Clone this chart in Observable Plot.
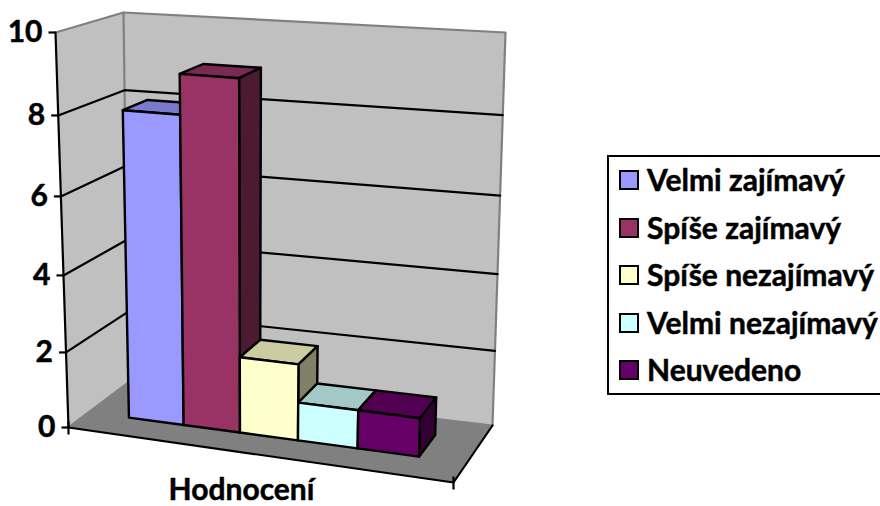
<!DOCTYPE html>
<html>
<head>
<meta charset="utf-8">
<script src="https://cdn.jsdelivr.net/npm/d3@7"></script>
<script src="https://cdn.jsdelivr.net/npm/@observablehq/plot@0.6"></script>
<style>
html,body{margin:0;padding:0;background:#fff;width:880px;height:506px;overflow:hidden}
#wrap{position:relative;width:880px;height:506px}
#legend{position:absolute;left:607px;top:155px;width:290px;height:240px;border:2px solid #000;box-sizing:border-box;font:bold 30px Lato,sans-serif;color:#000;-webkit-text-stroke:0.5px #000}
#legend div.row{position:absolute;left:10px;white-space:nowrap;line-height:24px;height:24px}
#legend i{position:absolute;left:0;top:2px;width:20px;height:20px;border:2px solid #000;box-sizing:border-box}
#legend span{position:absolute;left:28px;top:-1px}
</style>
</head>
<body>
<div id="wrap"></div>
<script>
const categories = ["Velmi zajímavý", "Spíše zajímavý", "Spíše nezajímavý", "Velmi nezajímavý", "Neuvedeno"];
const values = [8, 9, 2, 1, 1];
const frontColors = ["#9999FF", "#993366", "#FFFFCC", "#CCFFFF", "#660066"];
const topColors = ["#7A7ACC", "#7A2952", "#CCCCA3", "#A3C8C8", "#520052"];
const sideColors = ["#4D4D80", "#4D1A33", "#808066", "#668080", "#330033"];
const yTicks = [0, 2, 4, 6, 8, 10];
const xTitle = "Hodnocení";

// 3D box: u left-right, w front-back, v height (fractions), projected by interpolating its corners
const corner = {
  fbl: [68, 427], fbr: [453, 482], bbl: [128, 382], bbr: [492, 425],
  ftl: [55, 32], ftr: [466, 62], btl: [123, 12], btr: [505, 32]
};
const mix = (a, b, t) => [a[0] + (b[0] - a[0]) * t, a[1] + (b[1] - a[1]) * t];
function project(u, w, v) {
  const bottom = mix(mix(corner.fbl, corner.fbr, u), mix(corner.bbl, corner.bbr, u), w);
  const top = mix(mix(corner.ftl, corner.ftr, u), mix(corner.btl, corner.btr, u), w);
  return mix(bottom, top, v);
}
const V = (val) => 0.09375 * val + 0.000625 * val * val;   // perspective along the value axis
const U = (i) => 0.106 + 0.1425 * i + 0.0022 * i * i;      // perspective along the category axis
const W0 = 0.34, W1 = 0.73;

const poly = (id, color, pts) => pts.map(([u, w, v]) => {
  const [x, y] = project(u, w, v);
  return {id, color, x, y};
});

const faces = [];
categories.forEach((c, i) => {
  const a = U(i), b = U(i + 1), h = V(values[i]);
  faces.push(...poly(c + " top", topColors[i], [[a, W0, h], [b, W0, h], [b, W1, h], [a, W1, h]]));
  faces.push(...poly(c + " side", sideColors[i], [[b, W0, 0], [b, W1, 0], [b, W1, h], [b, W0, h]]));
  faces.push(...poly(c + " front", frontColors[i], [[a, W0, 0], [b, W0, 0], [b, W0, h], [a, W0, h]]));
});

const walls = [
  ...poly("left", "#C0C0C0", [[0,0,0],[0,1,0],[0,1,1],[0,0,1]]),
  ...poly("back", "#C0C0C0", [[0,1,0],[1,1,0],[1,1,1],[0,1,1]]),
];
const floor = poly("floor", "#808080", [[0,0,0],[1,0,0],[1,1,0],[0,1,0]]);
const wallEdges = [
  ...poly("e1", "", [[0,0,1],[0,1,1],[1,1,1],[1,1,0],[0,1,0],[0,0,0]]),
  ...poly("e2", "", [[0,1,1],[0,1,0]]),
];
const grid = yTicks.filter(t => t > 0 && t < 10).flatMap(t =>
  poly("g" + t, "", [[0,0,V(t)],[0,1,V(t)],[1,1,V(t)]]));
const axes = [
  ...poly("yaxis", "", [[0,0,0],[0,0,1]]),
  ...poly("xaxis", "", [[0,0,0],[1,0,0],[1,1,0]]),
];
const tickData = yTicks.map(t => { const [x, y] = project(0, 0, V(t)); return {t, x, y}; });
const [bx0, by0] = project(0, 0, 0), [bx1, by1] = project(1, 0, 0);
const labelStyle = {fontFamily: "Lato, sans-serif", fontWeight: "bold", fontSize: 30, fill: "#000", stroke: "#000", strokeWidth: 0.5};

const chart = Plot.plot({
  width: 880, height: 506,
  marginTop: 0, marginRight: 0, marginBottom: 0, marginLeft: 0,
  x: {domain: [0, 880], range: [0, 880], axis: null},
  y: {domain: [0, 506], range: [0, 506], axis: null},
  color: {type: "identity"},
  style: {background: "transparent", overflow: "visible"},
  marks: [
    Plot.line(walls, {x: "x", y: "y", z: "id", fill: d => d.color, stroke: "none", curve: "linear-closed"}),
    Plot.line(floor, {x: "x", y: "y", z: "id", fill: d => d.color, stroke: "none", curve: "linear-closed"}),
    Plot.line(wallEdges, {x: "x", y: "y", z: "id", stroke: "#808080", strokeWidth: 2.2}),
    Plot.line(grid, {x: "x", y: "y", z: "id", stroke: "#000", strokeWidth: 2.2}),
    Plot.line(axes, {x: "x", y: "y", z: "id", stroke: "#000", strokeWidth: 2.2}),
    Plot.link(tickData, {x1: d => d.x - 7, x2: "x", y1: "y", y2: "y", stroke: "#000", strokeWidth: 2.2}),
    Plot.link([[bx0, by0], [bx1, by1]], {x1: d => d[0], x2: d => d[0], y1: d => d[1] - 6, y2: d => d[1] + 7, stroke: "#000", strokeWidth: 2.2}),
    Plot.line(faces, {x: "x", y: "y", z: "id", fill: d => d.color, stroke: "#000", strokeWidth: 2.4, strokeLinejoin: "round", curve: "linear-closed"}),
    Plot.text(tickData, {x: "x", y: "y", text: d => String(d.t), dx: -13, textAnchor: "end", ...labelStyle}),
    Plot.text([xTitle], {x: () => 241, y: () => 490, text: d => d, textAnchor: "middle", ...labelStyle})
  ]
});
const wrap = document.getElementById("wrap");
wrap.appendChild(chart);

const legend = document.createElement("div");
legend.id = "legend";
categories.forEach((c, i) => {
  const row = document.createElement("div");
  row.className = "row";
  row.style.top = (11 + i * 47.6) + "px";
  const sw = document.createElement("i");
  sw.style.background = frontColors[i];
  const label = document.createElement("span");
  label.textContent = c;
  row.append(sw, label);
  legend.appendChild(row);
});
wrap.appendChild(legend);
</script>
</body>
</html>
